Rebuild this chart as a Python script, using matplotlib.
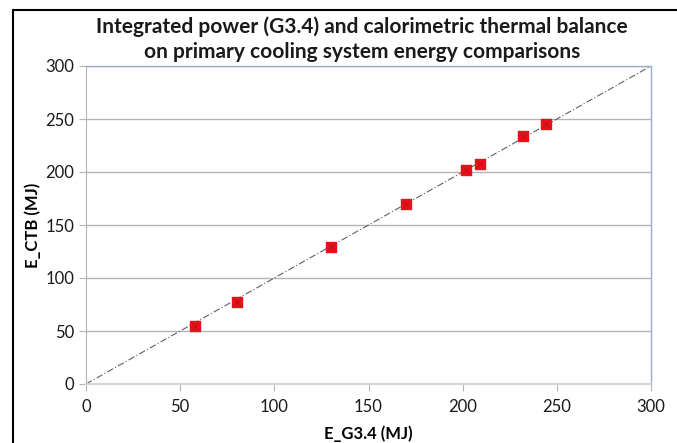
import numpy as np
import matplotlib.pyplot as plt
from matplotlib.patches import Rectangle

# energies (MJ)
e_g34 = [58, 80, 130, 170, 202, 209, 232, 244]
e_ctb = [55, 77, 129, 170, 202, 207.5, 233.5, 245]
ref_line = [0, 300]
title_lines = ['Integrated power (G3.4) and calorimetric thermal balance',
               'on primary cooling system energy comparisons']

plt.rcParams['font.family'] = ['Lato', 'DejaVu Sans']

fig = plt.figure(figsize=(6.77, 4.43), dpi=100)
ax = fig.add_axes([86/677, 59/443, 565/677, 318/443])

# outer chart frame (partly cropped)
fig.patches.append(Rectangle((13/677, -0.1), 1.2, (443-10)/443 + 0.1,
                             transform=fig.transFigure, fill=False,
                             edgecolor='black', linewidth=1.5))

ax.plot(ref_line, ref_line, linestyle='-.', color='#606060', linewidth=0.8,
        zorder=2, dashes=(6, 2, 1, 2))
ax.scatter(e_g34, e_ctb, marker='s', s=44, color='#e8101a',
           edgecolors='#e8101a', zorder=3)
ax.scatter(e_g34, e_ctb, marker='x', s=20, color='#a01018', linewidths=0.4,
           zorder=4)

ax.set_xlim(0, 300)
ax.set_ylim(0, 300)
ax.set_xticks(np.arange(0, 301, 50))
ax.set_yticks(np.arange(0, 301, 50))
ax.grid(axis='y', color='#b4b4b4', linewidth=1)
ax.set_axisbelow(True)

for s in ['top', 'right']:
    ax.spines[s].set_color('#95aece')
    ax.spines[s].set_linewidth(1)
ax.spines['left'].set_color('#b4b4b4')
ax.spines['bottom'].set_color('#d4d4d4')
ax.spines['bottom'].set_linewidth(1.5)
ax.tick_params(axis='both', colors='#b4b4b4', labelcolor='#1a1a1a',
               labelsize=12, length=5)
ax.tick_params(axis='x', pad=6)

ax.set_xlabel('E_G3.4 (MJ)', fontsize=12, fontweight='bold', labelpad=7)
ax.set_ylabel('E_CTB (MJ)', fontsize=12, fontweight='bold', labelpad=3)

# two-line title, centred a little left of the plot centre
for line, base in zip(title_lines, [33, 58]):
    fig.text(362/677, 1 - base/443, line, ha='center', va='baseline',
             fontsize=15, fontweight='bold', color='#1a1a1a')

fig.savefig('out.png', dpi=100)
